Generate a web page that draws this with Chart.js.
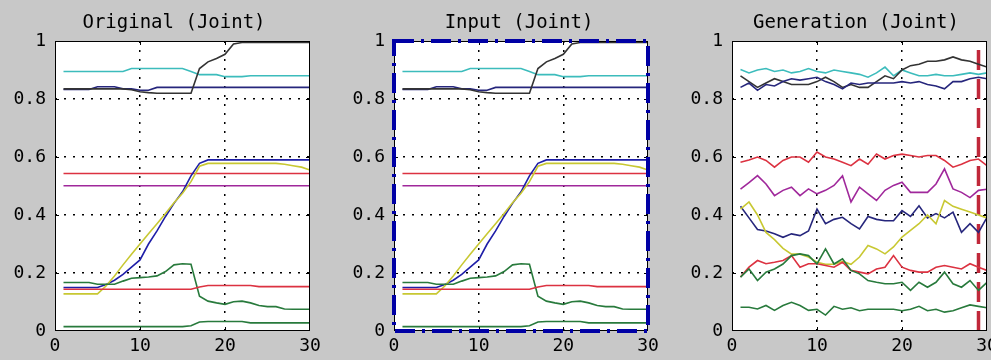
<!DOCTYPE html>
<html>
<head>
<meta charset="utf-8">
<script src="https://cdn.jsdelivr.net/npm/chart.js@4"></script>
<style>
  html, body { margin: 0; padding: 0; background: #c8c8c8; }
  #wrap { position: relative; width: 991px; height: 360px; overflow: hidden; }
  canvas { position: absolute; top: 0; }
</style>
</head>
<body>
<div id="wrap">
  <canvas id="orig" width="330" height="360" style="left:0px"></canvas>
  <canvas id="input" width="330" height="360" style="left:330px"></canvas>
  <canvas id="gen" width="331" height="360" style="left:660px"></canvas>
</div>
<script>
// time steps shared by all panels
const steps = [1,2,3,4,5,6,7,8,9,10,11,12,13,14,15,16,17,18,19,20,21,22,23,24,25,26,27,28,29,30];
const xTicks = [0, 10, 20, 30];
const yTicks = [0, 0.2, 0.4, 0.6, 0.8, 1];

// Original / Input joint trajectories
const cyanOrig    = [.895,.895,.895,.895,.895,.895,.895,.895,.905,.905,.905,.905,.905,.905,.905,.895,.884,.884,.884,.877,.877,.877,.88,.88,.88,.88,.88,.88,.88,.88];
const navyOrig    = [.833,.833,.833,.833,.842,.842,.842,.835,.835,.83,.83,.84,.84,.84,.84,.84,.84,.84,.84,.84,.84,.84,.84,.84,.84,.84,.84,.84,.84,.84];
const blackOrig   = [.835,.835,.835,.835,.835,.835,.835,.835,.832,.825,.822,.82,.82,.82,.82,.82,.905,.928,.94,.954,.99,.995,.995,.995,.995,.995,.995,.995,.995,.995];
const blueOrig    = [.15,.15,.15,.15,.15,.16,.175,.195,.22,.245,.30,.345,.395,.44,.48,.535,.578,.59,.59,.59,.59,.59,.59,.59,.59,.59,.59,.59,.59,.59];
const yellowOrig  = [.128,.128,.128,.128,.128,.155,.19,.228,.265,.30,.335,.37,.405,.442,.475,.515,.568,.578,.578,.578,.578,.578,.578,.578,.578,.578,.575,.57,.565,.555];
const redTopOrig  = [.543,.543,.543,.543,.543,.543,.543,.543,.543,.543,.543,.543,.543,.543,.543,.543,.543,.543,.543,.543,.543,.543,.543,.543,.543,.543,.543,.543,.543,.543];
const magentaOrig = [.501,.501,.501,.501,.501,.501,.501,.501,.501,.501,.501,.501,.501,.501,.501,.501,.501,.501,.501,.501,.501,.501,.501,.501,.501,.501,.501,.501,.501,.501];
const greenMidOrig = [.167,.167,.167,.167,.161,.161,.161,.172,.182,.184,.186,.19,.205,.228,.232,.23,.12,.103,.097,.092,.101,.103,.097,.088,.084,.084,.076,.075,.075,.075];
const greenLowOrig = [.015,.015,.015,.015,.015,.015,.015,.015,.015,.015,.015,.015,.015,.015,.015,.018,.031,.033,.033,.033,.033,.033,.028,.028,.028,.028,.028,.028,.028,.028];
const redLowOrig  = [.144,.144,.144,.144,.144,.144,.144,.144,.144,.144,.144,.144,.144,.144,.144,.144,.152,.157,.157,.157,.157,.157,.157,.153,.153,.153,.153,.153,.153,.153];

// Generated joint trajectories
const cyanGen     = [.902,.89,.90,.905,.895,.90,.89,.895,.905,.895,.89,.90,.895,.89,.885,.875,.89,.91,.88,.90,.89,.88,.88,.885,.88,.88,.885,.89,.885,.89];
const blackGen    = [.88,.86,.84,.855,.87,.86,.85,.85,.85,.86,.875,.86,.84,.85,.84,.84,.86,.88,.87,.90,.915,.92,.93,.93,.935,.945,.935,.93,.92,.91];
const navyGen     = [.84,.855,.83,.85,.845,.86,.87,.865,.87,.875,.86,.85,.835,.855,.85,.855,.855,.855,.855,.86,.855,.86,.85,.845,.835,.86,.86,.87,.875,.87];
const redGen      = [.582,.59,.60,.588,.565,.588,.60,.60,.582,.617,.60,.593,.582,.57,.593,.575,.61,.593,.605,.61,.605,.60,.605,.605,.588,.565,.575,.588,.593,.57];
const magentaGen  = [.489,.512,.536,.507,.467,.485,.496,.467,.49,.473,.485,.502,.535,.445,.496,.473,.45,.485,.502,.513,.478,.478,.478,.507,.559,.49,.478,.46,.485,.489];
const navyMidGen  = [.43,.39,.35,.345,.335,.323,.335,.329,.345,.42,.37,.385,.392,.37,.352,.395,.385,.38,.38,.415,.395,.432,.39,.405,.39,.41,.34,.37,.34,.392];
const yellowGen   = [.42,.445,.40,.34,.315,.285,.265,.265,.255,.237,.23,.23,.24,.23,.255,.295,.283,.266,.29,.324,.347,.37,.40,.37,.45,.43,.42,.41,.40,.39];
const redLowGen   = [.186,.22,.243,.232,.237,.243,.26,.22,.232,.232,.226,.22,.237,.209,.203,.197,.214,.22,.26,.22,.209,.203,.203,.22,.226,.22,.214,.232,.22,.209];
const greenMidGen = [.186,.214,.174,.203,.214,.231,.26,.266,.26,.231,.283,.231,.249,.209,.197,.174,.168,.163,.163,.168,.14,.168,.151,.168,.203,.163,.151,.174,.14,.168];
const greenLowGen = [.082,.082,.076,.088,.071,.088,.099,.088,.071,.075,.055,.085,.075,.08,.07,.075,.075,.075,.075,.07,.075,.085,.07,.075,.065,.07,.08,.09,.085,.08];

// dashed marker in the generation panel
const markerX = [29, 29];
const markerY = [0, 1];

const C = {
  cyan: '#3cbcbc', navy: '#26267c', black: '#333333', blue: '#1e1ea8',
  yellow: '#c8c832', red: '#dc3241', magenta: '#a0289b', green: '#287a3c'
};

function pts(xs, ys) {
  return ys.map((v, i) => ({ x: xs[i], y: v }));
}

function line(values, color) {
  return { data: pts(steps, values), borderColor: color, borderWidth: 1.6, pointRadius: 0, fill: false, tension: 0 };
}

const origSets = [
  line(greenLowOrig, C.green), line(redLowOrig, C.red), line(greenMidOrig, C.green),
  line(yellowOrig, C.yellow), line(blueOrig, C.blue), line(magentaOrig, C.magenta),
  line(redTopOrig, C.red), line(blackOrig, C.black), line(navyOrig, C.navy), line(cyanOrig, C.cyan)
];

const genSets = [
  line(greenLowGen, C.green), line(greenMidGen, C.green), line(redLowGen, C.red),
  line(yellowGen, C.yellow), line(navyMidGen, C.navy), line(magentaGen, C.magenta),
  line(redGen, C.red), line(navyGen, C.navy), line(blackGen, C.black), line(cyanGen, C.cyan),
  { data: pts(markerX, markerY), borderColor: '#c0283a', borderWidth: 3.5, borderDash: [20, 9], pointRadius: 0, fill: false }
];

// white plot face, box, inward ticks, title
const framePlugin = {
  id: 'frame',
  beforeDraw(chart) {
    const a = chart.chartArea, ctx = chart.ctx;
    ctx.save();
    ctx.fillStyle = '#ffffff';
    ctx.fillRect(a.left, a.top, a.right - a.left, a.bottom - a.top);
    ctx.restore();
  },
  afterDraw(chart, args, opts) {
    const a = chart.chartArea, ctx = chart.ctx;
    const xs = chart.scales.x, ys = chart.scales.y;
    ctx.save();
    ctx.strokeStyle = '#000';
    ctx.lineWidth = 1;
    ctx.strokeRect(a.left + 0.5, a.top + 0.5, a.right - a.left - 1, a.bottom - a.top - 1);
    ctx.beginPath();
    xTicks.slice(1, -1).forEach(v => {
      const px = Math.round(xs.getPixelForValue(v)) + 0.5;
      ctx.moveTo(px, a.bottom); ctx.lineTo(px, a.bottom - 4);
      ctx.moveTo(px, a.top); ctx.lineTo(px, a.top + 4);
    });
    yTicks.slice(1, -1).forEach(v => {
      const py = Math.round(ys.getPixelForValue(v)) + 0.5;
      ctx.moveTo(a.left, py); ctx.lineTo(a.left + 4, py);
      ctx.moveTo(a.right, py); ctx.lineTo(a.right - 4, py);
    });
    ctx.stroke();
    if (opts.highlight) {
      ctx.strokeStyle = '#0000a5';
      ctx.lineWidth = 4;
      ctx.setLineDash([20, 7, 3, 7]);
      ctx.strokeRect(a.left, a.top, a.right - a.left, a.bottom - a.top);
      ctx.setLineDash([]);
    }
    ctx.fillStyle = '#000';
    ctx.font = '19px "DejaVu Sans Mono"';
    ctx.textAlign = 'center';
    ctx.textBaseline = 'alphabetic';
    ctx.fillText(opts.title, opts.titleX, 28);
    ctx.restore();
  }
};

function makeChart(id, datasets, area, frameOpts) {
  const canvas = document.getElementById(id);
  const W = canvas.width, H = canvas.height;
  const font = { family: 'DejaVu Sans Mono', size: 18 };
  const dotted = (ctx) => (ctx.tick && (ctx.index === 0 || ctx.index === ctx.chart.scales[ctx.scale.id].ticks.length - 1)) ? 'rgba(0,0,0,0)' : '#000';
  return new Chart(canvas.getContext('2d'), {
    type: 'line',
    data: { datasets: datasets },
    plugins: [framePlugin],
    options: {
      responsive: false,
      animation: false,
      devicePixelRatio: 1,
      layout: { padding: { top: area.top, right: W - area.right, left: 0, bottom: 0 } },
      plugins: { legend: { display: false }, tooltip: { enabled: false }, frame: frameOpts },
      scales: {
        x: {
          type: 'linear', min: 0, max: 30,
          afterBuildTicks: s => { s.ticks = xTicks.map(v => ({ value: v })); },
          afterFit: s => { s.height = H - area.bottom; s.paddingLeft = 0; s.paddingRight = 0; },
          ticks: { font: font, color: '#000', padding: 5, maxRotation: 0, autoSkip: false },
          grid: { color: dotted, lineWidth: 1.5, drawTicks: false },
          border: { display: false, dash: [2, 7] }
        },
        y: {
          min: 0, max: 1,
          afterBuildTicks: s => { s.ticks = yTicks.map(v => ({ value: v })); },
          afterFit: s => { s.width = area.left; s.paddingTop = 0; s.paddingBottom = 0; },
          ticks: { font: font, color: '#000', padding: 9, callback: v => String(Math.round(v * 10) / 10) },
          grid: { color: dotted, lineWidth: 1.5, drawTicks: false },
          border: { display: false, dash: [2, 7] }
        }
      }
    }
  });
}

makeChart('orig', origSets, { left: 55, right: 310, top: 41, bottom: 331 },
  { title: 'Original (Joint)', titleX: 174 });
makeChart('input', origSets.map(d => Object.assign({}, d)), { left: 64, right: 318, top: 41, bottom: 331 },
  { title: 'Input (Joint)', titleX: 189, highlight: true });
makeChart('gen', genSets, { left: 72, right: 327, top: 41, bottom: 331 },
  { title: 'Generation (Joint)', titleX: 196 });
</script>
</body>
</html>
